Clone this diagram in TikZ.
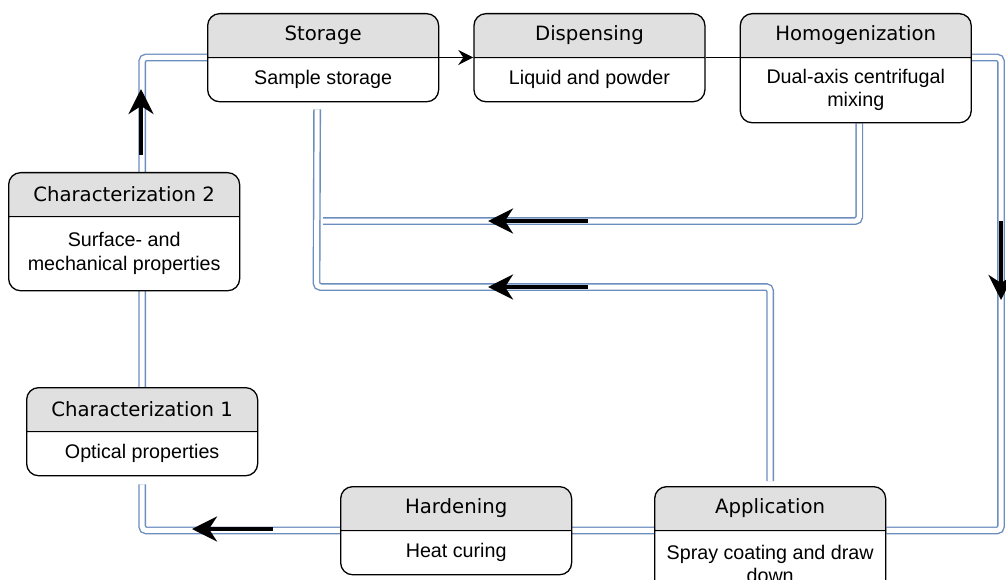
\documentclass[tikz,border=0pt]{standalone}
\usepackage{fontspec}
\usetikzlibrary{arrows.meta}
\usetikzlibrary{positioning}
\usetikzlibrary{shapes.multipart}

\newfontfamily\headfont{DejaVu Sans}
\newfontfamily\bodyfont{Liberation Sans}
\definecolor{headgray}{HTML}{E0E0E0}
\definecolor{pipeblue}{HTML}{6C8EBF}

\pgfdeclarelayer{bg}
\pgfsetlayers{bg,main}

\newcommand{\boxhead}[1]{\parbox[c][42.5pt][c]{231pt}{\centering\headfont\fontsize{19.7}{23.6}\selectfont #1}}
\newcommand{\boxbody}[2][43pt]{\parbox[c][#1][c]{231pt}{\centering\bodyfont\fontsize{19.7}{23.6}\selectfont #2}}

\begin{document}
\begin{tikzpicture}[x=1pt,y=-1pt,
    proc/.style={rectangle split,rectangle split parts=2,draw,fill=white,
      line width=1.3pt,rounded corners=12pt,inner sep=0pt,anchor=north west,
      path picture={\fill[headgray,sharp corners] (path picture bounding box.north west)
        rectangle ([yshift=-42.5pt]path picture bounding box.north east);}},
    pipe/.style={draw=pipeblue,line width=1.4pt,double=white,double distance=5pt,
      rounded corners=4pt},
    flow/.style={line width=4pt,-{Stealth[length=25pt,width=25pt,inset=8pt]}},
    link/.style={line width=1.3pt}]

  \useasboundingbox (0,0) rectangle (1006,580);
  \clip (0,0) rectangle (1006,580);

  % process boxes
  \node[proc] (stor) at (207,13)
    {\boxhead{Storage}\nodepart{two}\boxbody{Sample storage}};
  \node[proc,right=34pt of stor.north east,anchor=north west] (disp)
    {\boxhead{Dispensing}\nodepart{two}\boxbody{Liquid and powder}};
  \node[proc,right=34pt of disp.north east,anchor=north west] (homo)
    {\boxhead{Homogenization}\nodepart{two}\boxbody[64pt]{Dual-axis centrifugal\\mixing}};
  \node[proc] (ch2) at (8,172)
    {\boxhead{Characterization 2}\nodepart{two}\boxbody[73pt]{Surface- and\\mechanical properties}};
  \node[proc] (ch1) at (26,387)
    {\boxhead{Characterization 1}\nodepart{two}\boxbody{Optical properties}};
  \node[proc] (hard) at (340,486)
    {\boxhead{Hardening}\nodepart{two}\boxbody{Heat curing}};
  \node[proc] (app) at (654,486)
    {\boxhead{Application}\nodepart{two}\boxbody[66pt]{Spray coating and draw\\down}};

  \coordinate (rside) at (1001,300);
  \coordinate (ret1) at (323,221);
  \coordinate (ret2) at (316.5,287);

  % pipes, behind the boxes
  \begin{pgfonlayer}{bg}
    \draw[pipe] (ch1.north) |- (stor.one split west);
    \draw[pipe,shorten <=8pt] (ch1.south) |- (app.one split west);
    \draw[pipe] (app.one split east) -| (rside) |- (homo.one split east);
    \draw[pipe,shorten <=5pt] (app.north) |- (ret2) -- ([xshift=-6pt,yshift=-7pt]stor.south);
    \draw[pipe] ([xshift=3.5pt]homo.south) |- (ret1);
  \end{pgfonlayer}

  % direction arrows
  \coordinate (up0) at (141,155);   \coordinate (up1) at (141,89);
  \coordinate (dn0) at (1001,221);  \coordinate (dn1) at (1001,300);
  \coordinate (ra0) at (588,221);   \coordinate (ra1) at (488,221);
  \coordinate (rb0) at (588,287);   \coordinate (rb1) at (488,287);
  \coordinate (bt0) at (273,529);   \coordinate (bt1) at (192,529);
  \draw[flow] (up0) -- (up1);
  \draw[flow] (dn0) -- (dn1);
  \draw[flow] (ra0) -- (ra1);
  \draw[flow] (rb0) -- (rb1);
  \draw[flow] (bt0) -- (bt1);

  \draw[link,-{Stealth[length=15pt,width=15pt,inset=5pt]}] (stor.one split east) -- (disp.one split west);
  \draw[link] (disp.one split east) -- (homo.one split west);
\end{tikzpicture}
\end{document}
